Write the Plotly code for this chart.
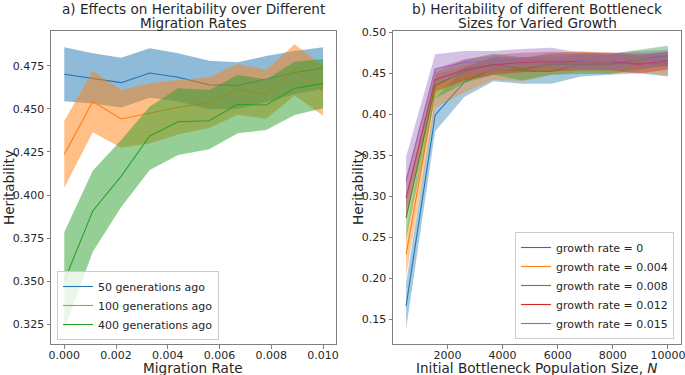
import plotly.graph_objects as go

# ---------------- Panel a) data ----------------
mig_rate = [0.0, 0.0011, 0.0022, 0.0033, 0.0044, 0.0056, 0.0067, 0.0078, 0.0089, 0.01]

gen50_mean = [0.4702, 0.4678, 0.4653, 0.4709, 0.4684, 0.4640, 0.4636, 0.4674, 0.4711, 0.4738]
gen50_lo = [0.4545, 0.4532, 0.4508, 0.4565, 0.4544, 0.4499, 0.4501, 0.4540, 0.4585, 0.4617]
gen50_hi = [0.4859, 0.4824, 0.4798, 0.4853, 0.4824, 0.4781, 0.4771, 0.4808, 0.4837, 0.4859]

gen100_mean = [0.4236, 0.4543, 0.4442, 0.4475, 0.4510, 0.4537, 0.4614, 0.4585, 0.4727, 0.4605]
gen100_lo = [0.4042, 0.4365, 0.4274, 0.4300, 0.4351, 0.4390, 0.4466, 0.4443, 0.4578, 0.4460]
gen100_hi = [0.4430, 0.4721, 0.4610, 0.4650, 0.4669, 0.4684, 0.4762, 0.4727, 0.4876, 0.4750]

gen400_mean = [0.3500, 0.3907, 0.4110, 0.4343, 0.4426, 0.4432, 0.4527, 0.4523, 0.4620, 0.4649]
gen400_lo = [0.3220, 0.3670, 0.3930, 0.4145, 0.4233, 0.4266, 0.4359, 0.4378, 0.4465, 0.4504]
gen400_hi = [0.3783, 0.4141, 0.4320, 0.4514, 0.4620, 0.4610, 0.4698, 0.4672, 0.4775, 0.4791]

series_a = ["50 generations ago", "100 generations ago", "400 generations ago"]

# ---------------- Panel b) data ----------------
bottleneck_n = [500, 1556, 2611, 3667, 4722, 5778, 6833, 7889, 8944, 10000]

g0_mean = [0.166, 0.399, 0.439, 0.455, 0.453, 0.452, 0.4605, 0.461, 0.462, 0.461]
g0_lo = [0.138, 0.379, 0.421, 0.440, 0.437, 0.437, 0.446, 0.448, 0.450, 0.446]
g0_hi = [0.194, 0.419, 0.457, 0.470, 0.469, 0.467, 0.475, 0.474, 0.474, 0.476]

g004_mean = [0.229, 0.428, 0.442, 0.455, 0.454, 0.461, 0.464, 0.462, 0.463, 0.459]
g004_lo = [0.202, 0.408, 0.426, 0.442, 0.440, 0.448, 0.451, 0.450, 0.451, 0.447]
g004_hi = [0.256, 0.448, 0.458, 0.468, 0.468, 0.474, 0.477, 0.474, 0.475, 0.471]

g008_mean = [0.273, 0.435, 0.452, 0.461, 0.455, 0.461, 0.461, 0.461, 0.4665, 0.4714]
g008_lo = [0.248, 0.419, 0.438, 0.448, 0.441, 0.448, 0.449, 0.449, 0.4545, 0.4594]
g008_hi = [0.298, 0.451, 0.466, 0.474, 0.469, 0.474, 0.473, 0.473, 0.4785, 0.4834]

g012_mean = [0.298, 0.442, 0.454, 0.460, 0.463, 0.464, 0.4645, 0.4645, 0.4605, 0.4653]
g012_lo = [0.273, 0.429, 0.441, 0.448, 0.451, 0.452, 0.4535, 0.4535, 0.4495, 0.4543]
g012_hi = [0.323, 0.455, 0.467, 0.472, 0.475, 0.476, 0.4755, 0.4755, 0.4715, 0.4763]

g015_mean = [0.318, 0.455, 0.463, 0.465, 0.4685, 0.469, 0.465, 0.4645, 0.467, 0.4685]
g015_lo = [0.288, 0.437, 0.449, 0.453, 0.4575, 0.457, 0.455, 0.4545, 0.457, 0.4585]
g015_hi = [0.348, 0.473, 0.477, 0.477, 0.4795, 0.481, 0.475, 0.4745, 0.477, 0.4785]

series_b = ["growth rate = 0", "growth rate = 0.004", "growth rate = 0.008",
            "growth rate = 0.012", "growth rate = 0.015"]

title_a = ["a) Effects on Heritability over Different", "Migration Rates"]
title_b = ["b) Heritability of different Bottleneck", "Sizes for Varied Growth"]
xlabel_a = "Migration Rate"
xlabel_b = "Initial Bottleneck Population Size, <i>N</i>"
ylabel = "Heritability"

# ---------------- styling ----------------
COLORS = ["#1f77b4", "#ff7f0e", "#2ca02c", "#d62728", "#9467bd"]
FONT = "DejaVu Sans"
TXT = "#262626"
W, H = 685, 375


def rgba(hex_color, a):
    h = hex_color.lstrip("#")
    return "rgba(%d,%d,%d,%.2f)" % (int(h[0:2], 16), int(h[2:4], 16), int(h[4:6], 16), a)


fig = go.Figure()


def add_series(x, mean, lo, hi, name, color, xa, ya, legend, alpha):
    fig.add_trace(go.Scatter(
        x=list(x) + list(x)[::-1], y=list(hi) + list(lo)[::-1],
        fill="toself", fillcolor=rgba(color, alpha), line=dict(width=0),
        mode="lines", hoverinfo="skip", showlegend=False, xaxis=xa, yaxis=ya))
    fig.add_trace(go.Scatter(
        x=x, y=mean, mode="lines", name=name, line=dict(color=color, width=1.1),
        xaxis=xa, yaxis=ya, legend=legend))


a_data = [(gen50_mean, gen50_lo, gen50_hi), (gen100_mean, gen100_lo, gen100_hi),
          (gen400_mean, gen400_lo, gen400_hi)]
for i, (m, lo, hi) in enumerate(a_data):
    add_series(mig_rate, m, lo, hi, series_a[i], COLORS[i], "x", "y", "legend", 0.5)

b_data = [(g0_mean, g0_lo, g0_hi), (g004_mean, g004_lo, g004_hi), (g008_mean, g008_lo, g008_hi),
          (g012_mean, g012_lo, g012_hi), (g015_mean, g015_lo, g015_hi)]
for i, (m, lo, hi) in enumerate(b_data):
    add_series(bottleneck_n, m, lo, hi, series_b[i], COLORS[i], "x2", "y2", "legend2", 0.4)

axis_common = dict(showline=True, linecolor="#808080", linewidth=1, mirror=True,
                   ticks="outside", ticklen=3.5, tickcolor="#808080", showgrid=False,
                   zeroline=False, automargin=False, ticklabeloverflow="allow",
                   tickfont=dict(family=FONT, size=11, color=TXT))
label_font = dict(family=FONT, size=13.6, color=TXT)

y_bot = 1 - 344 / H
y_top = 1 - 30.7 / H

fig.update_layout(
    width=W, height=H, margin=dict(l=0, r=0, t=0, b=0),
    plot_bgcolor="white", paper_bgcolor="white",
    font=dict(family=FONT, color=TXT),
    xaxis=dict(domain=[51 / W, 336 / W], range=[-0.000514, 0.0105],
               tickvals=[0, 0.002, 0.004, 0.006, 0.008, 0.01], tickformat=".3f",
               ticklabelstandoff=-3, **axis_common),
    yaxis=dict(domain=[y_bot, y_top], range=[0.3134, 0.4955],
               tickvals=[0.325, 0.35, 0.375, 0.4, 0.425, 0.45, 0.475], tickformat=".3f",
               **axis_common),
    xaxis2=dict(domain=[393 / W, 681 / W], range=[25, 10475], anchor="y2",
                tickvals=[2000, 4000, 6000, 8000, 10000], tickformat="d",
                ticklabelstandoff=-3, **axis_common),
    yaxis2=dict(domain=[y_bot, 1 - 31 / H], range=[0.1196, 0.5014], anchor="x2",
                tickvals=[0.15, 0.2, 0.25, 0.3, 0.35, 0.4, 0.45, 0.5], tickformat=".2f",
                **axis_common),
    legend=dict(x=57 / W, y=1 - 340 / H, xanchor="left", yanchor="bottom",
                bgcolor="rgba(255,255,255,0.8)", bordercolor="#cccccc", borderwidth=1,
                font=dict(family=FONT, size=11, color=TXT), tracegroupgap=0, itemwidth=30),
    legend2=dict(x=674 / W, y=1 - 339 / H, xanchor="right", yanchor="bottom",
                 bgcolor="rgba(255,255,255,0.8)", bordercolor="#cccccc", borderwidth=1,
                 font=dict(family=FONT, size=11, color=TXT), tracegroupgap=0, itemwidth=30),
    showlegend=True,
)


def px_ann(text, x, y, angle=0):
    fig.add_annotation(text=text, xref="paper", yref="paper", x=x / W, y=1 - y / H,
                       xanchor="center", yanchor="middle", showarrow=False,
                       font=label_font, textangle=angle)


# titles (two lines each, matplotlib-like tight spacing)
px_ann(title_a[0], 193.5, 9.5)
px_ann(title_a[1], 193.5, 22.8)
px_ann(title_b[0], 537, 9.5)
px_ann(title_b[1], 537, 22.8)
# axis labels
px_ann(xlabel_a, 193.5, 367.5)
px_ann(xlabel_b, 537, 367.5)
px_ann(ylabel, 8.5, 187.5, -90)
px_ann(ylabel, 357.5, 187.5, -90)

fig.write_html("out.html", config={"displayModeBar": False},
               post_script="document.body.style.margin='0px';document.body.style.overflow='hidden';")
